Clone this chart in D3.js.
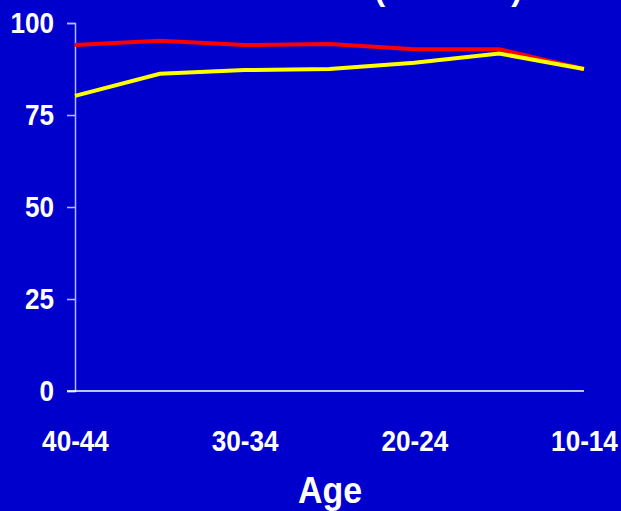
<!DOCTYPE html>
<html>
<head>
<meta charset="utf-8">
<script src="https://cdn.jsdelivr.net/npm/d3@7/dist/d3.min.js"></script>
<style>
  html, body { margin: 0; padding: 0; background: #0000cc; }
  svg { display: block; }
  text { font-family: "Liberation Sans", Arial, sans-serif; font-weight: bold; fill: #ffffff; }
</style>
</head>
<body>
<svg id="chart" width="621" height="511"></svg>
<script>
// Age groups, oldest to youngest
const categories = ["40-44", "35-39", "30-34", "25-29", "20-24", "15-19", "10-14"];
const tickLabels = ["40-44", "30-34", "20-24", "10-14"];
const yTicks = [0, 25, 50, 75, 100];

// Percentages per age group
const seriesRed    = [94.0, 95.2, 94.0, 94.3, 92.9, 92.9, 87.5];
const seriesYellow = [80.2, 86.2, 87.2, 87.5, 89.2, 91.7, 87.5];

const svg = d3.select("#chart");
const W = 621, H = 511;

svg.append("rect").attr("width", W).attr("height", H).attr("fill", "#0000cc");

const x = d3.scalePoint().domain(categories).range([75, 584]);
const y = d3.scaleLinear().domain([0, 100]).range([391, 23]);

// Condense a text element horizontally while keeping its anchor
function condense(sel, k) {
  sel.each(function () {
    const w = this.getComputedTextLength();
    d3.select(this).attr("textLength", w * k).attr("lengthAdjust", "spacingAndGlyphs");
  });
}

function styleLabels(sel, size) {
  sel.attr("font-size", size)
    .attr("font-family", "'Liberation Sans', Arial, sans-serif")
    .attr("font-weight", "bold")
    .attr("fill", "#ffffff");
}

// Title (runs off the top edge)
svg.append("text")
  .attr("x", 522).attr("y", 0)
  .attr("text-anchor", "end")
  .attr("font-size", 32)
  .text("Percent (National)");

// Y axis
const yAxis = svg.append("g")
  .attr("transform", "translate(75,0)")
  .call(d3.axisLeft(y).tickValues(yTicks).tickSize(8).tickPadding(13).tickFormat(d3.format("d")));
yAxis.select(".domain").attr("stroke", "#b8b8ff").attr("stroke-width", 1.5);
yAxis.selectAll(".tick line").attr("stroke", "#b8b8ff").attr("stroke-width", 1.5);
yAxis.selectAll(".tick text").call(styleLabels, 29).call(condense, 0.9);

// X axis baseline
svg.append("line")
  .attr("x1", 67).attr("x2", x(categories[categories.length - 1]))
  .attr("y1", y(0)).attr("y2", y(0))
  .attr("stroke", "#ffffff").attr("stroke-width", 1.5);

// X tick labels
const xAxis = svg.append("g")
  .attr("transform", `translate(0,${y(0)})`)
  .call(d3.axisBottom(x).tickValues(tickLabels).tickSize(0).tickPadding(39));
xAxis.select(".domain").remove();
xAxis.selectAll(".tick text").call(styleLabels, 29).call(condense, 0.9);

// X axis title
svg.append("text")
  .attr("x", 330).attr("y", 503)
  .attr("text-anchor", "middle")
  .attr("font-size", 36)
  .text("Age")
  .call(condense, 0.94);

// Lines
const line = d3.line()
  .x((d, i) => x(categories[i]))
  .y(d => y(d));

svg.append("path")
  .datum(seriesRed)
  .attr("d", line)
  .attr("fill", "none")
  .attr("stroke", "#ff0000")
  .attr("stroke-width", 4);

svg.append("path")
  .datum(seriesYellow)
  .attr("d", line)
  .attr("fill", "none")
  .attr("stroke", "#ffff00")
  .attr("stroke-width", 4);
</script>
</body>
</html>
